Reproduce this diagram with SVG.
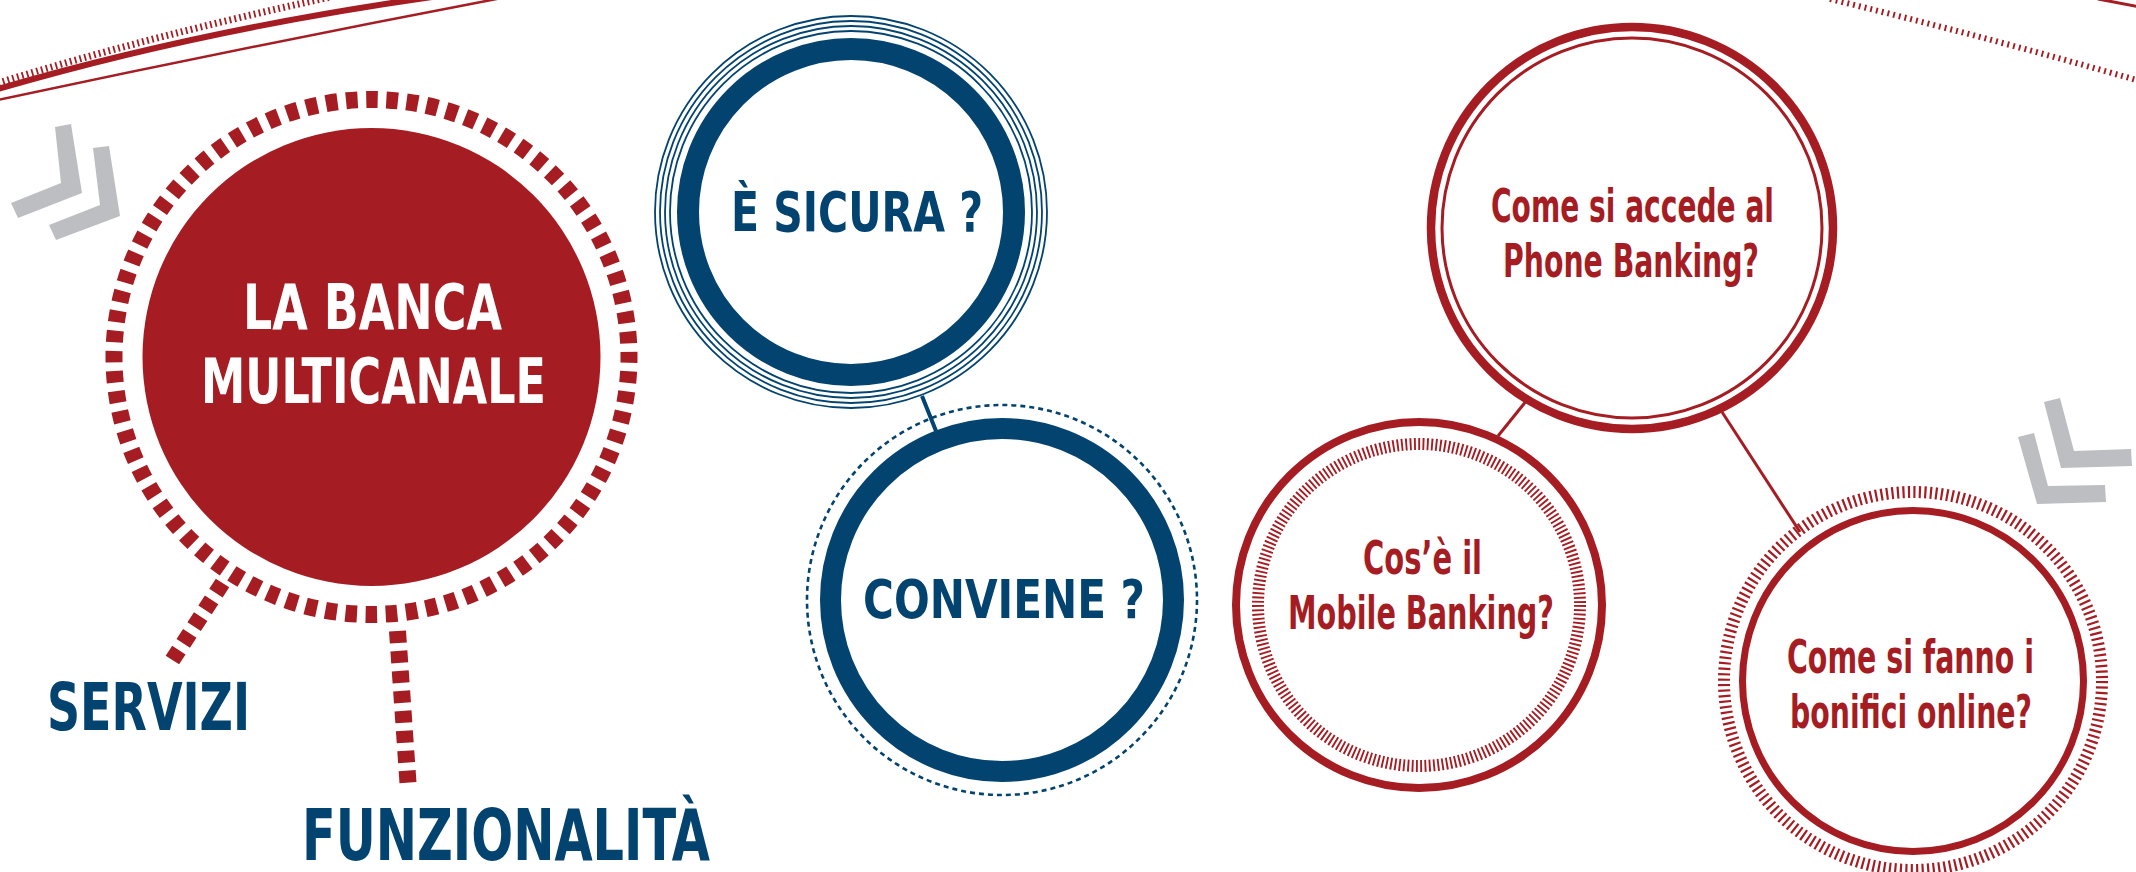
<svg xmlns="http://www.w3.org/2000/svg" width="2136" height="872" viewBox="0 0 2136 872">
  <style>
    .red { fill: #a51d22; }
    .grey { fill: #bcbec1; }
    .rline { fill: none; stroke: #a51d22; }
    .bline { fill: none; stroke: #03436f; }
    .brush { font-family: 'Liberation Sans Narrow', 'DejaVu Sans Condensed', 'Liberation Sans', sans-serif; font-weight: bold; text-anchor: middle; }
    .cond { font-family: 'Liberation Sans Narrow', 'DejaVu Sans Condensed', 'Liberation Sans', sans-serif; font-weight: bold; text-anchor: middle; font-size: 46px; fill: #a51d22; }
    .white { fill: #ffffff; }
    .blue { fill: #03436f; }
  </style>
  <rect x="0" y="0" width="2136" height="872" fill="#ffffff"/>

  <!-- decorations -->
  <g id="decor">
    <path class="rline" d="M-2,83 Q150,36 335,-4" stroke-width="7" stroke-dasharray="1.8 3.2"/>
    <path class="rline" d="M-2,89 Q200,30 432,-3" stroke-width="6"/>
    <path class="rline" d="M-2,100 Q250,46 507,-3" stroke-width="2.5"/>
    <path class="rline" d="M1830,-1 Q1990,38 2140,81" stroke-width="6" stroke-dasharray="1.9 4"/>
    <path class="rline" d="M2098,-1 L2140,7" stroke-width="3"/>
    <polygon class="grey" points="55,127 71,124 82,193 18,218 11,203 61,183"/>
    <polygon class="grey" points="93,148 109,146 120,216 56,240 49,225 100,205"/>
    <polygon class="grey" points="2044,402 2060,398 2074,451 2131,449 2132,466 2061,468"/>
    <polygon class="grey" points="2018,437 2034,433 2048,486 2105,485 2106,502 2037,504"/>
  </g>

  <!-- connectors -->
  <g id="connectors">
    <path class="rline" d="M222.5,583 L172.4,660" stroke-width="16" stroke-dasharray="12 8"/>
    <path class="rline" d="M397.5,631 L408,783" stroke-width="17" stroke-dasharray="12 8"/>
    <path class="bline" d="M922,396 L936,431" stroke-width="4"/>
    <path class="rline" d="M1527,400 L1498,436" stroke-width="3"/>
    <path class="rline" d="M1722,412 L1800,532" stroke-width="3"/>
  </g>

  <g id="node-banca">
    <circle class="rline" cx="371.5" cy="357" r="257.5" stroke-width="17" stroke-dasharray="11.6 8.624" stroke-dashoffset="5.8"/>
    <circle class="red" cx="371.5" cy="357" r="229"/>
    <text class="brush white" x="372.5" y="329" font-size="62" textLength="259" lengthAdjust="spacingAndGlyphs">LA BANCA</text>
    <text class="brush white" x="373.5" y="403" font-size="62" textLength="345" lengthAdjust="spacingAndGlyphs">MULTICANALE</text>
  </g>

  <g id="node-servizi">
    <text class="brush blue" x="148.5" y="730" font-size="66" textLength="203" lengthAdjust="spacingAndGlyphs">SERVIZI</text>
  </g>

  <g id="node-funzionalita">
    <text class="brush blue" x="506" y="860" font-size="72" textLength="408" lengthAdjust="spacingAndGlyphs">FUNZIONALITÀ</text>
  </g>

  <g id="node-sicura">
    <circle class="bline" cx="851" cy="212" r="196" stroke-width="1.8"/>
    <circle class="bline" cx="851" cy="212" r="191" stroke-width="1.8"/>
    <circle class="bline" cx="851" cy="212" r="186" stroke-width="1.8"/>
    <circle class="bline" cx="851" cy="212" r="181" stroke-width="1.8"/>
    <circle class="bline" cx="851" cy="212" r="163" stroke-width="22"/>
    <text class="brush blue" x="857" y="231" font-size="56" textLength="252" lengthAdjust="spacingAndGlyphs">È SICURA ?</text>
  </g>

  <g id="node-conviene">
    <circle class="bline" cx="1002" cy="600" r="195" stroke-width="2.6" stroke-dasharray="5 4.009"/>
    <circle class="bline" cx="1002" cy="600" r="171.5" stroke-width="21"/>
    <text class="brush blue" x="1004" y="618" font-size="53" textLength="282" lengthAdjust="spacingAndGlyphs">CONVIENE ?</text>
  </g>

  <g id="node-phone">
    <circle class="rline" cx="1632" cy="228" r="201" stroke-width="8.5"/>
    <circle class="rline" cx="1632" cy="228" r="190" stroke-width="3"/>
    <text class="cond" x="1632.5" y="222" textLength="283" lengthAdjust="spacingAndGlyphs">Come si accede al</text>
    <text class="cond" x="1631" y="277" textLength="256" lengthAdjust="spacingAndGlyphs">Phone Banking?</text>
  </g>

  <g id="node-mobile">
    <circle class="rline" cx="1419" cy="605" r="183" stroke-width="8"/>
    <circle class="rline" cx="1419" cy="605" r="161" stroke-width="12" stroke-dasharray="1.9 2.4047"/>
    <text class="cond" x="1422.5" y="574" textLength="119" lengthAdjust="spacingAndGlyphs">Cos’è il</text>
    <text class="cond" x="1421" y="629" textLength="266" lengthAdjust="spacingAndGlyphs">Mobile Banking?</text>
  </g>

  <g id="node-bonifici">
    <circle class="rline" cx="1913" cy="681" r="189" stroke-width="12" stroke-dasharray="2.2 3.2977"/>
    <circle class="rline" cx="1913" cy="681" r="170.5" stroke-width="7"/>
    <text class="cond" x="1910.5" y="673" textLength="247" lengthAdjust="spacingAndGlyphs">Come si fanno i</text>
    <text class="cond" x="1911" y="728" textLength="242" lengthAdjust="spacingAndGlyphs">bonifici online?</text>
  </g>
</svg>
